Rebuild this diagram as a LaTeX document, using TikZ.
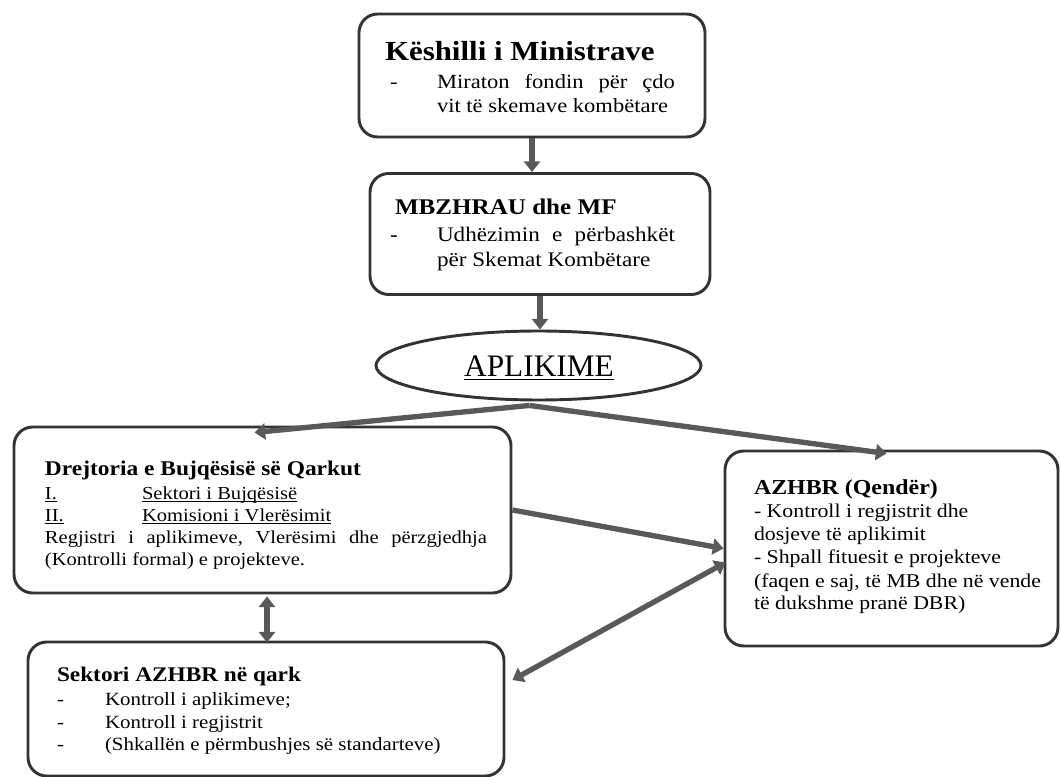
\documentclass[tikz,border=0pt]{standalone}
\usepackage{fontspec}
\setmainfont{Liberation Serif}[FakeStretch=1.12]
\newfontfamily\apfont{Liberation Serif}
\usetikzlibrary{arrows.meta,shapes.geometric,calc}
\newcommand{\ulin}[1]{\setbox0\hbox{#1}\rlap{\rule[-2.2pt]{\wd0}{0.7pt}}\box0}
\tikzset{
  box/.style={draw=black!80, line width=2.2pt, rounded corners=14pt, inner sep=0pt},
  oval/.style={ellipse, draw=black!80, line width=2.2pt, inner sep=0pt},
  txt/.style={inner sep=0pt, outer sep=0pt, anchor=base west},
  arr/.style={line width=4pt, draw=black!65, -{Triangle[width=12pt,length=8pt]}},
  darr/.style={line width=4pt, draw=black!65, {Triangle[width=12pt,length=8pt]}-{Triangle[width=12pt,length=8pt]}}
}
\newcommand{\fs}[2]{\fontsize{#1}{#2}\selectfont}
\begin{document}
\begin{tikzpicture}[x=0.75pt,y=-0.75pt]
\useasboundingbox (0,0) rectangle (1061,777);
% boxes
\node[box, minimum width=259.5pt, minimum height=92.25pt] (B1) at (532,75.5) {};
\node[box, minimum width=255pt, minimum height=90.75pt] (B2) at (540,234) {};
\node[oval, minimum width=243.75pt, minimum height=51.75pt] (E) at (538.5,365.5) {};
\node[box, minimum width=372.75pt, minimum height=124.5pt] (D) at (262.5,510) {};
\node[box, minimum width=249.75pt, minimum height=146.25pt] (A) at (891.5,548.5) {};
\node[box, minimum width=357pt, minimum height=100.5pt] (S) at (266,709) {};
% texts box 1
\node[txt] (t1) at (385,61) {\fs{20.7}{24}\bfseries Këshilli i Ministrave};
\node[txt] (t1d) at (390,89) {\fs{15.1}{18}-};
\node[txt] (t1a) at (437,89) {\fs{15.1}{18}\hbox to 178.5pt{Miraton\hfill fondin\hfill për\hfill çdo}};
\node[txt] (t1b) at (437,113) {\fs{15.1}{18}vit të skemave kombëtare};
% texts box 2
\node[txt] (t2) at (395,215) {\fs{16.8}{20}\bfseries MBZHRAU dhe MF};
\node[txt] (t2d) at (390,242) {\fs{15.5}{18}-};
\node[txt] (t2a) at (437,242) {\fs{15.5}{18}\hbox to 178.5pt{Udhëzimin\hfill e\hfill përbashkët}};
\node[txt] (t2b) at (437,267) {\fs{15.5}{18}për Skemat Kombëtare};
% ellipse
\node[inner sep=0pt, anchor=base] (tE) at (539,377) {\apfont\fs{23.5}{26}\underline{APLIKIME}};
% Drejtoria
\node[txt] (tD) at (45,475) {\fs{15.7}{18}\bfseries Drejtoria e Bujqësisë së Qarkut};
\node[txt] (tD1n) at (45,499) {\fs{13.75}{16}\ulin{I.}};
\node[txt] (tD1) at (142,499) {\fs{13.75}{16}\ulin{Sektori i Bujqësisë}};
\node[txt] (tD2n) at (45,521) {\fs{13.75}{16}\ulin{II.}};
\node[txt] (tD2) at (142,521) {\fs{13.75}{16}\ulin{Komisioni i Vlerësimit}};
\node[txt] (tD3) at (45,543) {\fs{13.75}{16}\hbox to 331.5pt{Regjistri\hfill i\hfill aplikimeve,\hfill Vlerësimi\hfill dhe\hfill përzgjedhja}};
\node[txt] (tD4) at (45,565) {\fs{13.75}{16}(Kontrolli formal) e projekteve.};
% AZHBR
\node[txt] (tA) at (754,494) {\fs{16}{18}\bfseries AZHBR (Qendër)};
\node[txt] (tA1) at (754,517) {\fs{14.6}{17}- Kontroll i regjistrit dhe};
\node[txt] (tA2) at (754,540) {\fs{14.6}{17}dosjeve të aplikimit};
\node[txt] (tA3) at (754,563) {\fs{14.6}{17}- Shpall fituesit e projekteve};
\node[txt] (tA4) at (754,587) {\fs{14.6}{17}(faqen e saj, të MB dhe në vende};
\node[txt] (tA5) at (754,609) {\fs{14.6}{17}të dukshme pranë DBR)};
% Sektori
\node[txt] (tS) at (57,681) {\fs{15.6}{18}\bfseries Sektori AZHBR në qark};
\node[txt] (tS1d) at (57,705) {\fs{14}{16}-};
\node[txt] (tS1) at (105,705) {\fs{14}{16}Kontroll i aplikimeve;};
\node[txt] (tS2d) at (57,728) {\fs{14}{16}-};
\node[txt] (tS2) at (105,728) {\fs{14}{16}Kontroll i regjistrit};
\node[txt] (tS3d) at (57,750) {\fs{14}{16}-};
\node[txt] (tS3) at (105,750) {\fs{14}{16}(Shkallën e përmbushjes së standarteve)};
% connectors
\draw[arr] (B1.south) -- (B1.south |- B2.north);
\draw[arr] (B2.south) -- (B2.south |- E.north);
\draw[arr] ($(E.south)+(-9,4)$) -- ($(D.north)+(-8,7)$);
\draw[arr] ($(E.south)+(-9,4)$) -- ($(A.north)+(-5,4)$);
\draw[arr] (D.east) -- (A.west);
\draw[darr] ($(S.east)+(7,-29)$) -- ($(A.west)+(2,14)$);
\draw[darr] ($(D.south)+(4.5,2)$) -- ($(D.south |- S.north)+(4.5,2)$);
\end{tikzpicture}
\end{document}
